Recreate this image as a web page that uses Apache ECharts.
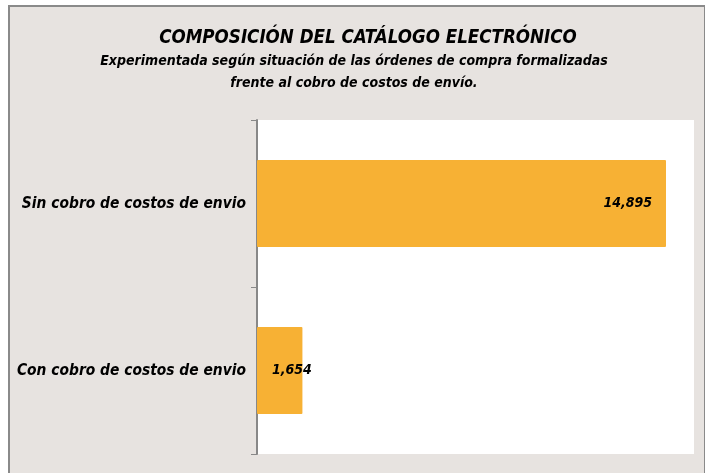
<!DOCTYPE html>
<html>
<head>
<meta charset="utf-8">
<script src="https://cdn.jsdelivr.net/npm/echarts@6/dist/echarts.min.js"></script>
<style>html,body{margin:0;padding:0;background:#fff;}#c{width:705px;height:473px;}</style>
</head>
<body>
<div id="c"></div>
<script>
const categories = ['Sin cobro de costos de envio', 'Con cobro de costos de envio'];
const values = [14895, 1654];
const titleText = 'COMPOSICIÓN DEL CATÁLOGO ELECTRÓNICO';
const subtitleText = 'Experimentada según situación de las órdenes de compra formalizadas\nfrente al cobro de costos de envío.';

const FONT = '"Liberation Sans Narrow", "DejaVu Sans Condensed", "Roboto", sans-serif';
const chart = echarts.init(document.getElementById('c'), null, {renderer: 'canvas'});
const labelCfg = [
  {show: true, position: 'insideRight', distance: 14},
  {show: true, position: 'insideLeft', distance: 15}
];
chart.setOption({
  backgroundColor: '#ffffff',
  animation: false,
  graphic: [{
    type: 'rect', z: -10,
    shape: {x: 9, y: 6, width: 696, height: 480},
    style: {fill: '#e7e3e0', stroke: '#8a8a8a', lineWidth: 2}
  }, {
    type: 'rect', z: -5,
    shape: {x: 257, y: 120, width: 437, height: 334},
    style: {fill: '#ffffff'}
  }],
  title: [{
    text: titleText,
    left: 363, top: 24, textAlign: 'center',
    textStyle: {fontFamily: FONT, fontSize: 18.6, fontWeight: 'bold', fontStyle: 'italic', color: '#000'}
  }, {
    text: subtitleText,
    left: 349, top: 45, textAlign: 'center',
    textStyle: {fontFamily: FONT, fontSize: 14, fontWeight: 'bold', fontStyle: 'italic', color: '#000', lineHeight: 22}
  }],
  grid: {left: 257, right: 11, top: 120, bottom: 19, containLabel: false},
  xAxis: {type: 'value', min: 0, max: 15915, show: false, splitLine: {show: false}},
  yAxis: {
    type: 'category', data: categories, inverse: true,
    axisLine: {show: true, lineStyle: {color: '#888', width: 2}},
    axisTick: {show: true, length: 6, lineStyle: {color: '#888', width: 1}},
    axisLabel: {margin: 11, fontFamily: FONT, fontSize: 15.4, fontWeight: 'bold', fontStyle: 'italic', color: '#000'}
  },
  series: [{
    type: 'bar',
    data: values.map((v, i) => ({value: v, label: labelCfg[i]})),
    barWidth: '52%',
    itemStyle: {color: '#f7b134', borderRadius: 1},
    label: {
      show: true, fontFamily: FONT, fontSize: 14, fontWeight: 'bold', fontStyle: 'italic', color: '#000',
      formatter: p => p.value.toLocaleString('en-US')
    }
  }]
});
</script>
</body>
</html>
